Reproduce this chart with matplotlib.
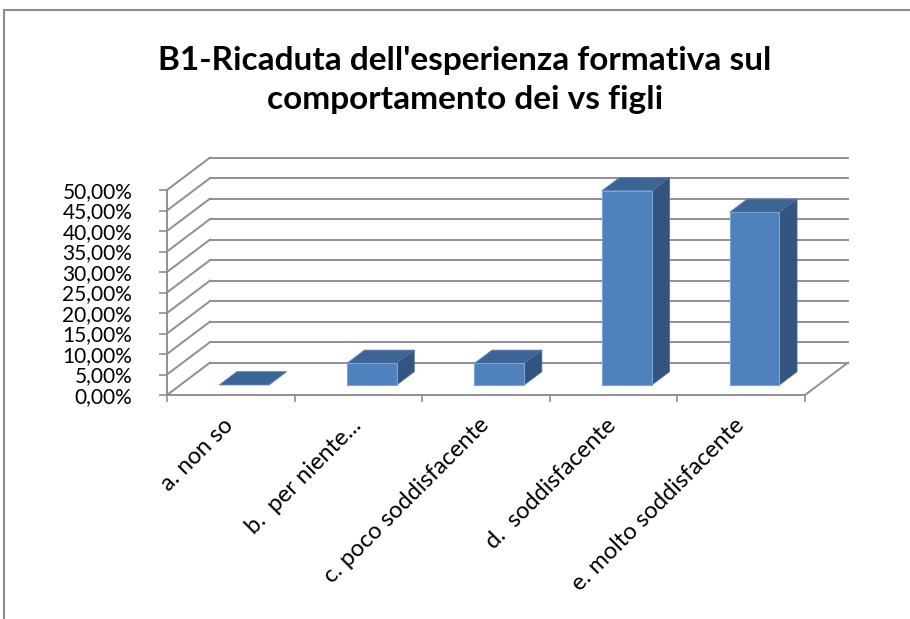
import numpy as np
import matplotlib.pyplot as plt
import matplotlib.transforms as mtrans
from matplotlib.patches import Polygon, Rectangle

categories = ['a. non so', 'b.  per niente...', 'c. poco soddisfacente',
              'd.  soddisfacente', 'e. molto soddisfacente']
values = [0.0, 5.26, 5.26, 47.37, 42.11]
yticks = [0, 5, 10, 15, 20, 25, 30, 35, 40, 45, 50]
title = "B1-Ricaduta dell'esperienza formativa sul\ncomportamento dei vs figli"

# pseudo 3d: depth offset in data units
DX, DY = 0.337, 7.9
Z0, Z1 = 0.31, 0.72   # bar front / back depth
BW = 0.39             # bar width
grid_col = '#8f8f8f'
front_col, top_col, side_col = '#4f81bd', '#3c6494', '#32547f'

fig = plt.figure(figsize=(9.1, 6.19), dpi=100)
ax = fig.add_axes([167/910, 1-395/619, 638/910, 205/619])
ax.set_xlim(0, 5)
ax.set_ylim(0, 50)
ax.patch.set_visible(False)

def P(x, y, z):
    return (x + z*DX, y + z*DY)

# back wall + left wall gridlines
for v in yticks:
    xs, ys = zip(P(0, v, 1), P(5, v, 1))
    ax.plot(xs, ys, color=grid_col, lw=1.4, clip_on=False, zorder=1)
    xs, ys = zip(P(0, v, 0), P(0, v, 1))
    ax.plot(xs, ys, color=grid_col, lw=1.4, clip_on=False, zorder=1)
# floor right edge
xs, ys = zip(P(5, 0, 0), P(5, 0, 1))
ax.plot(xs, ys, color=grid_col, lw=1.4, clip_on=False, zorder=1)

# bars
for i, v in enumerate(values):
    x0 = i + 0.5 - BW/2
    x1 = i + 0.5 + BW/2
    top = Polygon([P(x0, v, Z0), P(x1, v, Z0), P(x1, v, Z1), P(x0, v, Z1)],
                  closed=True, fc=top_col, ec='#5a82b8', lw=0.6, clip_on=False, zorder=3)
    ax.add_patch(top)
    if v > 0:
        side = Polygon([P(x1, 0, Z0), P(x1, 0, Z1), P(x1, v, Z1), P(x1, v, Z0)],
                       closed=True, fc=side_col, ec='#4a6e9e', lw=0.6, clip_on=False, zorder=3)
        ax.add_patch(side)
        front = Polygon([P(x0, 0, Z0), P(x1, 0, Z0), P(x1, v, Z0), P(x0, v, Z0)],
                        closed=True, fc=front_col, ec='#7ba3d6', lw=0.8, clip_on=False, zorder=4)
        ax.add_patch(front)

# axes
for s in ['top', 'right']:
    ax.spines[s].set_visible(False)
for s in ['left', 'bottom']:
    ax.spines[s].set_color(grid_col)
    ax.spines[s].set_linewidth(1.4)
ax.set_yticks(yticks)
ax.set_yticklabels(['%d,00%%' % t for t in yticks], fontsize=15, family='Lato')
ax.tick_params(axis='y', length=6, color=grid_col, width=1.2, pad=19)
ax.set_xticks(np.arange(5) + 0.5)
ax.set_xticklabels(categories, rotation=45, ha='right', rotation_mode='anchor',
                   fontsize=17, family='Lato')
ax.tick_params(axis='x', which='major', length=0, pad=14)
shift = mtrans.ScaledTranslation(-8/100, 0, fig.dpi_scale_trans)
for lab in ax.get_xticklabels():
    lab.set_transform(lab.get_transform() + shift)
ax.set_xticks(np.arange(6), minor=True)
ax.tick_params(axis='x', which='minor', length=5, color=grid_col, width=1.2)

fig.text(465/910, 1-80/619, title, ha='center', va='center', fontsize=24,
         fontweight='bold', family='Lato', linespacing=1.4)

# outer chart frame
fig.add_artist(Rectangle((4/910, -0.5), 2, 0.5 + (1 - 10/619), transform=fig.transFigure,
                         fill=False, ec='#8c8c8c', lw=1.5))

fig.savefig('out.png', dpi=100)
